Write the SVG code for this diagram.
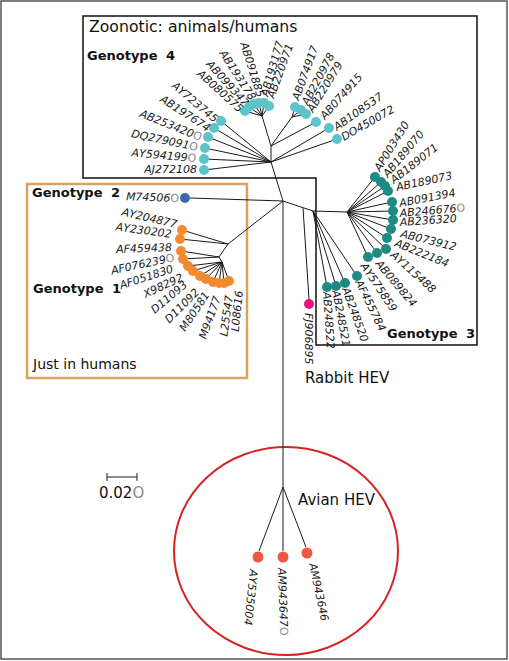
<svg xmlns="http://www.w3.org/2000/svg" width="509" height="661" viewBox="0 0 509 661">
<style>
.lbl{font-family:"DejaVu Sans",sans-serif;font-size:11px;font-style:italic;fill:#1a1a1a}
.e{text-anchor:end}
.o{fill:#8a8a8a;font-style:normal}
.hd{font-family:"DejaVu Sans",sans-serif;fill:#111}
.gt{font-family:"DejaVu Sans",sans-serif;font-weight:bold;font-size:13px;fill:#111}
.br{stroke:#1a1a1a;stroke-width:1;fill:none}
.g4{fill:#5cc4ca}.g3{fill:#1d8b83}.g1{fill:#f28a2e}.g2{fill:#3d6aab}.rb{fill:#e5177c}.av{fill:#ec5840}
</style>
<rect width="509" height="661" fill="#fff"/>
<g id="frames" fill="none">
<rect x="1" y="1" width="506" height="658" stroke="#555" stroke-width="1.5"/>
<path d="M83,16 H477 V345 H316 V178 H83 Z" stroke="#111" stroke-width="1.5"/>
<rect x="27" y="184" width="220" height="194" stroke="#dca15d" stroke-width="2.5"/>
<ellipse cx="286" cy="551" rx="112" ry="104" stroke="#d42424" stroke-width="2"/>
</g>
<g id="titles">
<text class="hd" x="89" y="32" font-size="15.7">Zoonotic: animals/humans</text>
<text class="gt" x="87" y="60">Genotype <tspan dx="4">4</tspan></text>
<text class="gt" x="32" y="197">Genotype <tspan dx="4">2</tspan></text>
<text class="gt" x="33" y="293">Genotype <tspan dx="4">1</tspan></text>
<text class="gt" x="387" y="338">Genotype <tspan dx="4">3</tspan></text>
<text class="hd" x="33" y="369" font-size="14">Just in humans</text>
<text class="hd" x="305" y="383" font-size="15">Rabbit HEV</text>
<text class="hd" x="298" y="505" font-size="15">Avian HEV</text>
</g>
<g id="scale">
<path class="br" d="M107,477 H137 M107,473 V481 M137,473 V481"/>
<text class="hd" x="99" y="498" font-size="15">0.02<tspan class="o">O</tspan></text>
</g>
<g id="connectors" class="br">
<path d="M283,201 L271,162 L271,146 L262,116 M262,116 L245,111 M262,116 L249,107 M262,116 L254,104 M262,116 L259,103 M262,116 L264,103 M262,116 L269,106
M271,146 L292,117 L295,107 M292,117 L301,110 M292,117 L306,114 M271,146 L316,122
M271,162 L329,128 M271,162 L337,139
M271,162 L204,170 M271,162 L204,159 M271,162 L205,148 M271,162 L208,137 M271,162 L214,128 M271,162 L221,121"/>
<path d="M283,201 L313,211 L347,212 M347,212 L375,177 M347,212 L381,182 M347,212 L385,186 M347,212 L388,191 M347,212 L392,202 M347,212 L393,211 M347,212 L393,220 M347,212 L391,229 M347,212 L387,238 M347,212 L386,249 M347,212 L377,253 M347,212 L368,257
M313,211 L357,276 M313,211 L345,283 M313,211 L336,286 M313,211 L327,287
M303,208 L309,299"/>
<path d="M283,201 L228,244 L182,230 M228,244 L180,239 M228,244 L219,257 L181,251 M219,257 L183,259 M219,257 L222,262
M222,262 L188,266 M222,262 L193,271 M222,262 L200,276 M222,262 L206,279 M222,262 L213,282 M222,262 L219,283 M222,262 L224,283 M222,262 L229,281
M190,198 L283,201"/>
<path d="M283,201 V487 M283,487 L259,551 M283,487 V551 M283,487 L306,547"/>
</g>
<g id="genotype4">
<g id="AJ272108"><circle class="g4" cx="204" cy="170" r="5"/><text class="lbl e" transform="translate(197,173) rotate(0)">AJ272108</text></g>
<g id="AY594199"><circle class="g4" cx="204" cy="159" r="5"/><text class="lbl e" transform="translate(196,162) rotate(5)">AY594199<tspan class="o">O</tspan></text></g>
<g id="DQ279091"><circle class="g4" cx="205" cy="148" r="5"/><text class="lbl e" transform="translate(197,151) rotate(12)">DQ279091<tspan class="o">O</tspan></text></g>
<g id="AB253420"><circle class="g4" cx="208" cy="137" r="5"/><text class="lbl e" transform="translate(200,141) rotate(22)">AB253420<tspan class="o">O</tspan></text></g>
<g id="AB197674"><circle class="g4" cx="214" cy="128" r="5"/><text class="lbl e" transform="translate(207,132) rotate(33)">AB197674</text></g>
<g id="AY723745"><circle class="g4" cx="221" cy="121" r="5"/><text class="lbl e" transform="translate(214,123) rotate(40)">AY723745</text></g>
<g id="AB080575"><circle class="g4" cx="245" cy="111" r="5"/><text class="lbl e" transform="translate(239,113) rotate(42)">AB080575</text></g>
<g id="AB099347"><circle class="g4" cx="249" cy="107" r="5"/><text class="lbl e" transform="translate(244,107) rotate(48)">AB099347</text></g>
<g id="AB193178"><circle class="g4" cx="254" cy="104" r="5"/><text class="lbl e" transform="translate(250,101) rotate(57)">AB193178</text></g>
<g id="AB091885"><circle class="g4" cx="259" cy="103" r="5"/><text class="lbl e" transform="translate(257,98) rotate(73)">AB091885</text></g>
<g id="AB193177"><circle class="g4" cx="264" cy="103" r="5"/><text class="lbl" transform="translate(268,97) rotate(-74)">AB193177</text></g>
<g id="AB220971"><circle class="g4" cx="269" cy="106" r="5"/><text class="lbl" transform="translate(274,99) rotate(-70)">AB220971</text></g>
<g id="AB074917"><circle class="g4" cx="295" cy="107" r="5"/><text class="lbl" transform="translate(299,101) rotate(-70)">AB074917</text></g>
<g id="AB220978"><circle class="g4" cx="301" cy="110" r="5"/><text class="lbl" transform="translate(308,106) rotate(-62)">AB220978</text></g>
<g id="AB220979"><circle class="g4" cx="306" cy="114" r="5"/><text class="lbl" transform="translate(313,113) rotate(-58)">AB220979</text></g>
<g id="AB074915"><circle class="g4" cx="316" cy="122" r="5"/><text class="lbl" transform="translate(325,120) rotate(-48)">AB074915</text></g>
<g id="AB108537"><circle class="g4" cx="329" cy="128" r="5"/><text class="lbl" transform="translate(337,131) rotate(-35)">AB108537</text></g>
<g id="DO450072"><circle class="g4" cx="337" cy="139" r="5"/><text class="lbl" transform="translate(344,141) rotate(-30)">DO450072</text></g>
</g>
<g id="genotype3">
<g id="AP003430"><circle class="g3" cx="375" cy="177" r="5"/><text class="lbl" transform="translate(380,172) rotate(-58)">AP003430</text></g>
<g id="AB189070"><circle class="g3" cx="381" cy="182" r="5"/><text class="lbl" transform="translate(388,178) rotate(-50)">AB189070</text></g>
<g id="AB189071"><circle class="g3" cx="385" cy="186" r="5"/><text class="lbl" transform="translate(394,184) rotate(-38)">AB189071</text></g>
<g id="AB189073"><circle class="g3" cx="388" cy="191" r="5"/><text class="lbl" transform="translate(397,191) rotate(-12)">AB189073</text></g>
<g id="AB091394"><circle class="g3" cx="392" cy="202" r="5"/><text class="lbl" transform="translate(400,207) rotate(-11)">AB091394</text></g>
<g id="AB246676"><circle class="g3" cx="393" cy="211" r="5"/><text class="lbl" transform="translate(400,217) rotate(-5)">AB246676<tspan class="o">O</tspan></text></g>
<g id="AB236320"><circle class="g3" cx="393" cy="220" r="5"/><text class="lbl" transform="translate(400,226) rotate(-4)">AB236320</text></g>
<g id="AB073912"><circle class="g3" cx="391" cy="229" r="5"/><text class="lbl" transform="translate(400,237) rotate(14)">AB073912</text></g>
<g id="AB222184"><circle class="g3" cx="387" cy="238" r="5"/><text class="lbl" transform="translate(394,246) rotate(22)">AB222184</text></g>
<g id="AY115488"><circle class="g3" cx="386" cy="249" r="5"/><text class="lbl" transform="translate(390,256) rotate(42)">AY115488</text></g>
<g id="AB089824"><circle class="g3" cx="377" cy="253" r="5"/><text class="lbl" transform="translate(375,264) rotate(50)">AB089824</text></g>
<g id="AY575859"><circle class="g3" cx="368" cy="257" r="5"/><text class="lbl" transform="translate(360,266) rotate(56)">AY575859</text></g>
<g id="AF455784"><circle class="g3" cx="357" cy="276" r="5"/><text class="lbl" transform="translate(355,282) rotate(64)">AF455784</text></g>
<g id="AB248520"><circle class="g3" cx="345" cy="283" r="5"/><text class="lbl" transform="translate(342,289) rotate(70)">AB248520</text></g>
<g id="AB248521"><circle class="g3" cx="336" cy="286" r="5"/><text class="lbl" transform="translate(332,291) rotate(79)">AB248521</text></g>
<g id="AB248522"><circle class="g3" cx="327" cy="287" r="5"/><text class="lbl" transform="translate(323,292) rotate(86)">AB248522</text></g>
</g>
<g id="rabbit">
<g id="FJ906895"><circle class="rb" cx="309" cy="304" r="5"/><text class="lbl" transform="translate(305,313) rotate(90)">FJ906895</text></g>
</g>
<g id="genotype2">
<g id="M74506"><circle class="g2" cx="185" cy="198" r="5"/><text class="lbl e" transform="translate(179,202) rotate(2)">M74506<tspan class="o">O</tspan></text></g>
</g>
<g id="genotype1">
<g id="AY204877"><circle class="g1" cx="182" cy="230" r="5"/><text class="lbl e" transform="translate(176,228) rotate(13)">AY204877</text></g>
<g id="AY230202"><circle class="g1" cx="180" cy="239" r="5"/><text class="lbl e" transform="translate(171,238) rotate(8)">AY230202</text></g>
<g id="AF459438"><circle class="g1" cx="181" cy="251" r="5"/><text class="lbl e" transform="translate(172,251) rotate(-2)">AF459438</text></g>
<g id="AF076239"><circle class="g1" cx="183" cy="259" r="5"/><text class="lbl e" transform="translate(175,261) rotate(-12)">AF076239<tspan class="o">O</tspan></text></g>
<g id="AF051830"><circle class="g1" cx="188" cy="266" r="5"/><text class="lbl e" transform="translate(174,272) rotate(-18)">AF051830</text></g>
<g id="X98292"><circle class="g1" cx="193" cy="271" r="5"/><text class="lbl e" transform="translate(184,280) rotate(-25)">X98292</text></g>
<g id="D11093"><circle class="g1" cx="200" cy="276" r="5"/><text class="lbl e" transform="translate(188,286) rotate(-40)">D11093</text></g>
<g id="D11092"><circle class="g1" cx="206" cy="279" r="5"/><text class="lbl e" transform="translate(200,293) rotate(-45)">D11092</text></g>
<g id="M80581"><circle class="g1" cx="213" cy="282" r="5"/><text class="lbl e" transform="translate(210,295) rotate(-56)">M80581</text></g>
<g id="M94177"><circle class="g1" cx="219" cy="283" r="5"/><text class="lbl e" transform="translate(221,298) rotate(-70)">M94177</text></g>
<g id="L25547"><circle class="g1" cx="224" cy="283" r="5"/><text class="lbl e" transform="translate(233,296) rotate(-82)">L25547</text></g>
<g id="L08616"><circle class="g1" cx="229" cy="281" r="5"/><text class="lbl e" transform="translate(243,291) rotate(-84)">L08616</text></g>
</g>
<g id="avian">
<g id="AY535004"><circle class="av" cx="258" cy="557" r="5.5"/><text class="lbl" transform="translate(250,569) rotate(96)">AY535004</text></g>
<g id="AM943647"><circle class="av" cx="283" cy="557" r="5.5"/><text class="lbl" transform="translate(278,568) rotate(88)">AM943647<tspan class="o">O</tspan></text></g>
<g id="AM943646"><circle class="av" cx="307" cy="553" r="5.5"/><text class="lbl" transform="translate(309,564) rotate(78)">AM943646</text></g>
</g>
</svg>
